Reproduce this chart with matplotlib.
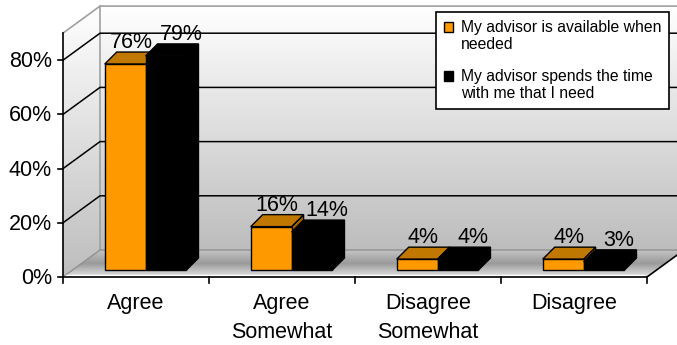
import numpy as np
import matplotlib.pyplot as plt
from matplotlib.patches import Polygon, Patch, Rectangle
from matplotlib.legend_handler import HandlerPatch
from matplotlib.colors import LinearSegmentedColormap

categories = ["Agree", "Agree\nSomewhat", "Disagree\nSomewhat", "Disagree"]
available = [76, 16, 4, 4]
spends_time = [79, 14, 4, 3]
series_names = ["My advisor is available when\nneeded",
                "My advisor spends the time\nwith me that I need"]
yticks = [0, 20, 40, 60, 80]

plt.rcParams['font.family'] = ['Liberation Sans', 'DejaVu Sans']

fig = plt.figure(figsize=(6.77, 3.45), dpi=100)
ax = fig.add_axes([0, 0, 1, 1])

# front plane: x in category units, y in percent
sx, sy = 146.0, 2.71      # pixels per category / per percent
x0, y0 = 63, 277          # pixel position of the origin
n = len(categories)
ymax = 90
fs = 15.5


def off(dx_px, dy_px):
    return dx_px / sx, dy_px / sy


WX, WY = off(37, 27)      # wall depth
BX, BY = off(9.6, 7)      # bar front offset
DX, DY = off(12, 12)      # bar depth
bw = 0.28

# walls and floor with gradients
grad = np.linspace(0, 1, 256).reshape(-1, 1)
wall_cmap = LinearSegmentedColormap.from_list("wall", ["#ffffff", "#bdbdbd"])
floor_cmap = LinearSegmentedColormap.from_list("floor", ["#c4c4c4", "#9a9a9a", "#e4e4e4"])

ax.imshow(grad, extent=(WX, n + WX, WY, ymax + WY), cmap=wall_cmap, aspect='auto', zorder=0)

left_wall = Polygon([(0, 0), (WX, WY), (WX, ymax + WY), (0, ymax)], closed=True,
                    facecolor='none', edgecolor='none')
ax.add_patch(left_wall)
im = ax.imshow(grad, extent=(0, WX, 0, ymax + WY), cmap=wall_cmap, aspect='auto', zorder=0)
im.set_clip_path(left_wall)

floor = Polygon([(0, 0), (n, 0), (n + WX, WY), (WX, WY)], closed=True,
                facecolor='none', edgecolor='none')
ax.add_patch(floor)
im = ax.imshow(grad, extent=(0, n + WX, 0, WY), cmap=floor_cmap, aspect='auto', zorder=0)
im.set_clip_path(floor)

# wall edges
ax.plot([0, WX, n + WX + 1], [ymax, ymax + WY, ymax + WY], color='#a0a0a0', lw=1.2, zorder=1)
ax.plot([WX, WX], [WY, ymax + WY], color='#a0a0a0', lw=1.2, zorder=1)
ax.plot([0, WX, n + WX + 1], [0, WY, WY], color='#909090', lw=1, zorder=1)
ax.plot([0.02, n - 0.02], [0.8, 0.8], color='white', lw=1, zorder=1)

# gridlines
for v in yticks[1:]:
    ax.plot([0, WX, n + WX + 1], [v, v + WY, v + WY], color='black', lw=1.1, zorder=1)

# axes lines and ticks
ax.plot([0, 0], [0, ymax], color='black', lw=1.2, zorder=5)
ax.plot([0, n], [0, 0], color='black', lw=1.2, zorder=5)
ax.plot([n, n + WX], [0, WY], color='black', lw=1.2, zorder=5)
for v in yticks:
    ax.plot([-5 / sx, 0], [v, v], color='black', lw=1.2, zorder=5)
    ax.text(-11 / sx, v - 1.5 / sy, f"{v}%", ha='right', va='center', fontsize=fs)
for i in range(n + 1):
    ax.plot([i, i], [0, -6 / sy], color='black', lw=1.2, zorder=5)
for i, cat in enumerate(categories):
    ax.text(i + 0.5, -16 / sy, cat, ha='center', va='top', fontsize=fs, linespacing=1.5)

# bars
styles = [("#ff9900", "#c07800", "#a06000"), ("#000000", "#000000", "#000000")]
label_shift = [0, 9 / sx]
for j, vals in enumerate([available, spends_time]):
    front, top, side = styles[j]
    for i, v in enumerate(vals):
        xl = i + 0.22 + j * bw + BX
        z = 3 + j
        ax.add_patch(Polygon([(xl + bw, BY), (xl + bw + DX, BY + DY), (xl + bw + DX, BY + v + DY), (xl + bw, BY + v)],
                             facecolor=side, edgecolor='black', lw=1, zorder=z))
        ax.add_patch(Polygon([(xl, BY + v), (xl + bw, BY + v), (xl + bw + DX, BY + v + DY), (xl + DX, BY + v + DY)],
                             facecolor=top, edgecolor='black', lw=1, zorder=z))
        ax.add_patch(Polygon([(xl, BY), (xl + bw, BY), (xl + bw, BY + v), (xl, BY + v)],
                             facecolor=front, edgecolor='black', lw=1, zorder=z))
        ax.text(xl + bw / 2 + DX / 2 + label_shift[j], BY + v + DY - 1 / sy, f"{v}%",
                ha='center', va='bottom', fontsize=fs, zorder=6)


def first_line_square(legend, orig_handle, xdescent, ydescent, width, height, fontsize):
    # put the key square next to the first line of a two-line label
    return Rectangle((-xdescent, -ydescent + 0.6 * fontsize), width, height)


handles = [Patch(facecolor=styles[0][0], edgecolor='black'), Patch(facecolor='black', edgecolor='black')]
leg = ax.legend(handles, series_names, loc='upper left', bbox_to_anchor=(436 / 677, 1 - 12 / 345),
                bbox_transform=fig.transFigure, fontsize=11.3, frameon=True, fancybox=False,
                edgecolor='black', framealpha=1, borderaxespad=0, handlelength=0.6, handleheight=0.6,
                handletextpad=0.5, labelspacing=1.05, borderpad=0.5,
                handler_map={Patch: HandlerPatch(patch_func=first_line_square)})
leg.get_frame().set_linewidth(1.2)
leg.set_zorder(10)

ax.set_xlim(-x0 / sx, (677 - x0) / sx)
ax.set_ylim(-(345 - y0) / sy, y0 / sy)
ax.axis('off')

fig.savefig("out.png", dpi=100)
